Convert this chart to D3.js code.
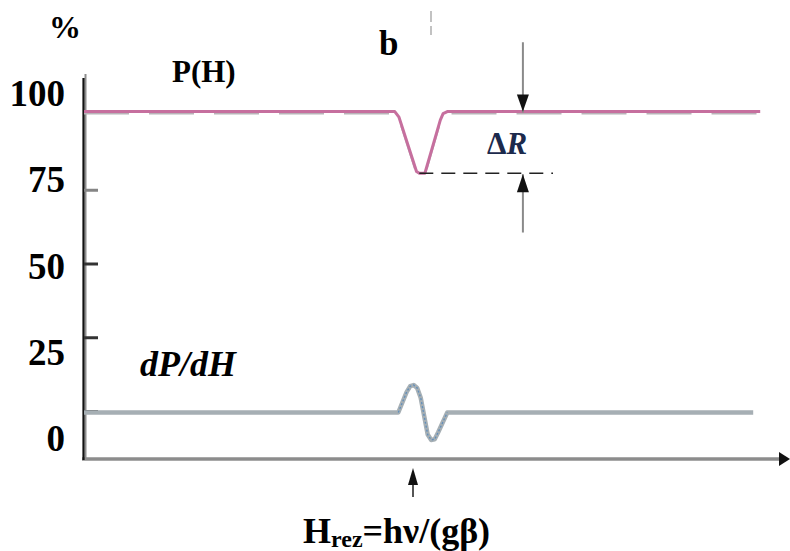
<!DOCTYPE html>
<html>
<head>
<meta charset="utf-8">
<script src="https://cdn.jsdelivr.net/npm/d3@7/dist/d3.min.js"></script>
<style>
  html, body { margin: 0; padding: 0; background: #fff; }
  svg { display: block; }
  text { font-family: "Liberation Serif", "Times New Roman", serif; font-weight: bold; fill: #000; }
</style>
</head>
<body>
<svg id="chart" width="790" height="551"></svg>
<script>
// Field axis in arbitrary units, signal axis in percent
const fieldDomain = [0, 100];
const percentDomain = [0, 100];

// Tick marks on the percent axis and their printed labels
const yTickValues = [75, 50, 25, 0];
const yLabelValues = [100, 75, 50, 25, 0];

// Absorption curve P(H)
const pField = [0, 44.4, 45.0, 47.5, 47.9, 48.7, 50.9, 51.3, 51.9, 96.6];
const pValue = [101.5, 101.5, 99.6, 81.2, 80.6, 80.6, 98.6, 100.8, 101.5, 101.5];

// Derivative curve dP/dH
const dField = [0, 44.9, 46.1, 46.6, 47.1, 47.6, 48.1, 49.1, 49.6, 50.1, 50.6, 51.9, 95.6];
const dValue = [-0.5, -0.5, 6.5, 8.4, 8.8, 7.8, 4.5, -8.0, -9.8, -9.6, -7.2, -0.5, -0.5];

// Resonance field and the ΔR marker
const resonanceField = 47;
const deltaRField = 62.7;
const deltaRTop = 125;        // upper arrow starts here and points down to the plateau
const deltaRBottom = 60.5;    // lower arrow starts here and points up to the dip
const pPlateau = pValue[0];
const pMin = d3.min(pValue);

const svg = d3.select("#chart");

const x = d3.scaleLinear().domain(fieldDomain).range([84, 784]);
const y = d3.scaleLinear().domain(percentDomain).range([411, 116]);
// printed labels sit on their own evenly spaced column
const yLab = d3.scaleLinear().domain(percentDomain).range([451, 106]);

const axisY = y(-16.3);
const axisTop = y(114.2);

// ---- axes ----
// x axis
svg.append("line")
  .attr("x1", x(0) - 2).attr("x2", x(100) - 2)
  .attr("y1", axisY).attr("y2", axisY)
  .attr("stroke", "#8c8c8c").attr("stroke-width", 3.5);
svg.append("path")
  .attr("d", `M${x(100) - 5},${axisY - 7} L${x(100) + 6},${axisY} L${x(100) - 5},${axisY + 7} Z`)
  .attr("fill", "#111");

// y axis (dark edge with grey shading)
svg.append("line")
  .attr("x1", x(0) + 1.5).attr("x2", x(0) + 1.5)
  .attr("y1", axisTop).attr("y2", axisY + 1)
  .attr("stroke", "#8e8e8e").attr("stroke-width", 2);
svg.append("line")
  .attr("x1", x(0) - 0.5).attr("x2", x(0) - 0.5)
  .attr("y1", axisTop + 4).attr("y2", axisY + 1)
  .attr("stroke", "#111").attr("stroke-width", 2.2);

const yAxis = d3.axisRight(y).tickValues(yTickValues).tickSize(14).tickFormat("");
const yAxisG = svg.append("g").attr("transform", `translate(${x(0)},0)`).call(yAxis);
yAxisG.select(".domain").remove();
yAxisG.selectAll(".tick line")
  .attr("stroke", d => d === 75 ? "#858585" : "#333")
  .attr("stroke-width", 3);

svg.append("g").selectAll("text")
  .data(yLabelValues)
  .join("text")
  .attr("x", 65)
  .attr("y", d => yLab(d))
  .attr("text-anchor", "end")
  .attr("font-size", 37)
  .text(d => d);

svg.append("text").attr("x", 49).attr("y", 38).attr("font-size", 32).text("%");

// ---- P(H) ----
const pData = pField.map((h, i) => ({ h, v: pValue[i] }));
const line = d3.line().x(d => x(d.h)).y(d => y(d.v));

svg.append("path")
  .datum(pData)
  .attr("d", line)
  .attr("transform", "translate(0,2)")
  .attr("fill", "none")
  .attr("stroke", "#b8b4b8")
  .attr("stroke-width", 2)
  .attr("stroke-dasharray", "45 20");
svg.append("path")
  .datum(pData)
  .attr("d", line)
  .attr("fill", "none")
  .attr("stroke", "#c66f9e")
  .attr("stroke-width", 3)
  .attr("stroke-linejoin", "round");

svg.append("text").attr("x", 172).attr("y", 82).attr("font-size", 31).text("P(H)");
svg.append("text").attr("x", 379).attr("y", 55).attr("font-size", 35).text("b");

// small dashed tick at the top
svg.append("line")
  .attr("x1", 431).attr("x2", 431).attr("y1", 11).attr("y2", 35)
  .attr("stroke", "#9a9a9a").attr("stroke-width", 1.2)
  .attr("stroke-dasharray", "11 4");

// ---- ΔR marker ----
svg.append("line")
  .attr("x1", x(pField[4])).attr("x2", x(deltaRField + 4.3))
  .attr("y1", y(pMin)).attr("y2", y(pMin))
  .attr("stroke", "#222").attr("stroke-width", 1.5)
  .attr("stroke-dasharray", "14 8");

svg.append("line")
  .attr("x1", x(deltaRField)).attr("x2", x(deltaRField))
  .attr("y1", y(deltaRTop)).attr("y2", y(pPlateau) + 1)
  .attr("stroke", "#8a8a8a").attr("stroke-width", 2);
svg.append("path")
  .attr("d", `M${x(deltaRField) - 6},${y(pPlateau) - 17} L${x(deltaRField) + 6},${y(pPlateau) - 17} L${x(deltaRField)},${y(pPlateau)} Z`)
  .attr("fill", "#111");

svg.append("line")
  .attr("x1", x(deltaRField)).attr("x2", x(deltaRField))
  .attr("y1", y(pMin) + 1).attr("y2", y(deltaRBottom))
  .attr("stroke", "#8a8a8a").attr("stroke-width", 2);
svg.append("path")
  .attr("d", `M${x(deltaRField) - 6},${y(pMin) + 19} L${x(deltaRField) + 6},${y(pMin) + 19} L${x(deltaRField)},${y(pMin) + 1} Z`)
  .attr("fill", "#111");

const dr = svg.append("text").attr("x", 487).attr("y", 154).attr("font-size", 31)
  .style("fill", "#1c2a4c");
dr.append("tspan").text("Δ");
dr.append("tspan").attr("font-style", "italic").text("R");

// ---- dP/dH ----
const dData = dField.map((h, i) => ({ h, v: dValue[i] }));
svg.append("path")
  .datum(dData)
  .attr("d", line)
  .attr("fill", "none")
  .attr("stroke", "#a6afb4")
  .attr("stroke-width", 4.5)
  .attr("stroke-linejoin", "round");
svg.append("path")
  .datum(dData.filter(d => d.h >= 29 && d.h <= 93))
  .attr("d", line)
  .attr("fill", "none")
  .attr("stroke", "#4f86bd")
  .attr("stroke-width", 1.3)
  .attr("stroke-dasharray", "2 2")
  .attr("opacity", 0.8);

svg.append("text").attr("x", 140).attr("y", 376).attr("font-size", 36)
  .attr("font-style", "italic").text("dP/dH");

// ---- resonance marker ----
svg.append("line")
  .attr("x1", x(resonanceField)).attr("x2", x(resonanceField))
  .attr("y1", axisY + 22).attr("y2", axisY + 38)
  .attr("stroke", "#555").attr("stroke-width", 2);
svg.append("path")
  .attr("d", `M${x(resonanceField) - 5},${axisY + 26} L${x(resonanceField) + 5},${axisY + 26} L${x(resonanceField)},${axisY + 9} Z`)
  .attr("fill", "#111");

const hr = svg.append("text").attr("x", 303).attr("y", 543).attr("font-size", 36);
hr.append("tspan").text("H");
hr.append("tspan").attr("font-size", 24).attr("dy", 4).text("rez");
hr.append("tspan").attr("dy", -4).text("=hν/(gβ)");
</script>
</body>
</html>
